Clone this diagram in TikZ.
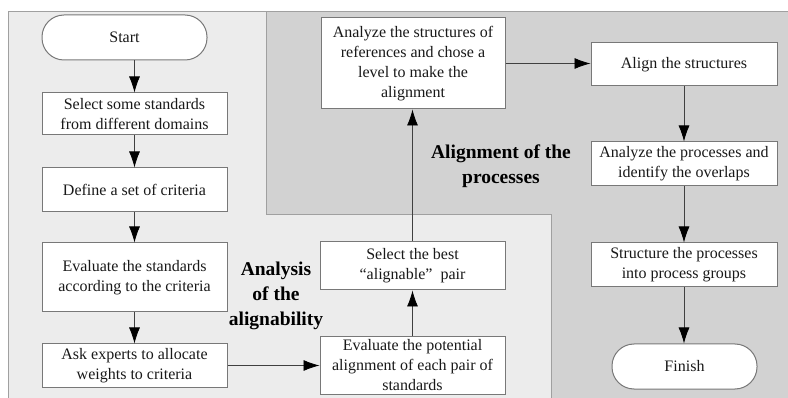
\documentclass[tikz,border=0pt]{standalone}
\usepackage{fontspec}
\setmainfont{Liberation Serif}
\usepackage{tikz}
\usetikzlibrary{arrows.meta}

\definecolor{lightarea}{RGB}{236,236,236}
\definecolor{darkarea}{RGB}{210,210,210}
\definecolor{areaborder}{RGB}{160,160,160}
\definecolor{boxborder}{RGB}{120,120,120}

\tikzset{
  stepbox/.style={draw=boxborder, line width=1pt, fill=white, align=center, inner sep=0pt, minimum width=185pt, text=black!90, font=\fontsize{16}{20}\selectfont},
  terminal/.style={stepbox, rounded corners=22pt, minimum height=45pt},
  flow/.style={draw=black!75, line width=0.8pt, -{Latex[length=16pt,width=11pt,black]}},
  areatitle/.style={align=center, text=black, font=\fontsize{19.5}{25}\selectfont\bfseries}
}

\begin{document}
\begin{tikzpicture}[x=1pt, y=-1pt]
                \useasboundingbox (0,0) rectangle (788,398);
                \filldraw[fill=darkarea, draw=areaborder, line width=1pt] (266,11.5) rectangle (792,402);
                \filldraw[fill=lightarea, draw=areaborder, line width=1pt] (8.5,402) -- (8.5,11.5) -- (266,11.5) -- (266,215) -- (551,215) -- (551,402);

                \node[terminal, minimum width=165pt](start) at (124.5,37.5) {Start};
                \node[stepbox, minimum height=42pt](select) at (134.5,114) {Select some standards\\from different domains};
                \node[stepbox, minimum height=44pt](define) at (134.5,190) {Define a set of criteria};
                \node[stepbox, minimum height=69pt](evalstd) at (134.5,277.5) {Evaluate the standards\\according to the criteria};
                \node[stepbox, minimum height=43pt](ask) at (134.5,365.5) {Ask experts to allocate\\weights to criteria};
                \node[stepbox, minimum height=57pt](evalpair) at (412.5,365.5) {Evaluate the potential\\alignment of each pair of\\standards};
                \node[stepbox, minimum height=48pt](best) at (412.5,266) {Select the best\\“alignable”\hspace{0.5em}pair};
                \node[stepbox, minimum height=91pt, minimum width=184pt](struct) at (413,63.5) {Analyze the structures of\\references and chose a\\level to make the\\alignment};
                \node[stepbox, minimum height=43pt, minimum width=186pt](align) at (684,64.5) {Align the structures};
                \node[stepbox, minimum height=44pt, minimum width=186pt](overlap) at (684,164) {Analyze the processes and\\identify the overlaps};
                \node[stepbox, minimum height=44pt, minimum width=186pt](groups) at (684,265) {Structure the processes\\into process groups};
                \node[terminal, minimum width=145pt](finish) at (684.5,366.5) {Finish};

                \node[areatitle](analysistitle) at (276,296) {Analysis\\of the\\alignability};
                \node[areatitle](alignmenttitle) at (501,166) {Alignment of the\\processes};

                                \draw[flow] (start.south -| select.north) -- (select.north);
                                \draw[flow] (select.south) -- (define.north);
                                \draw[flow] (define.south) -- (evalstd.north);
                                \draw[flow] (evalstd.south) -- (ask.north);
                                \draw[flow] (ask.east) -- (evalpair.west);
                                \draw[flow] (evalpair.north) -- (best.south);
                                \draw[flow] (best.north) -- (struct.south -| best.north);
                                \draw[flow] (struct.east) -- (align.west |- struct.east);
                                \draw[flow] (align.south) -- (overlap.north);
                                \draw[flow] (overlap.south) -- (groups.north);
                                \draw[flow] (groups.south) -- (finish.north -| groups.south);
        \end{tikzpicture}
\end{document}
